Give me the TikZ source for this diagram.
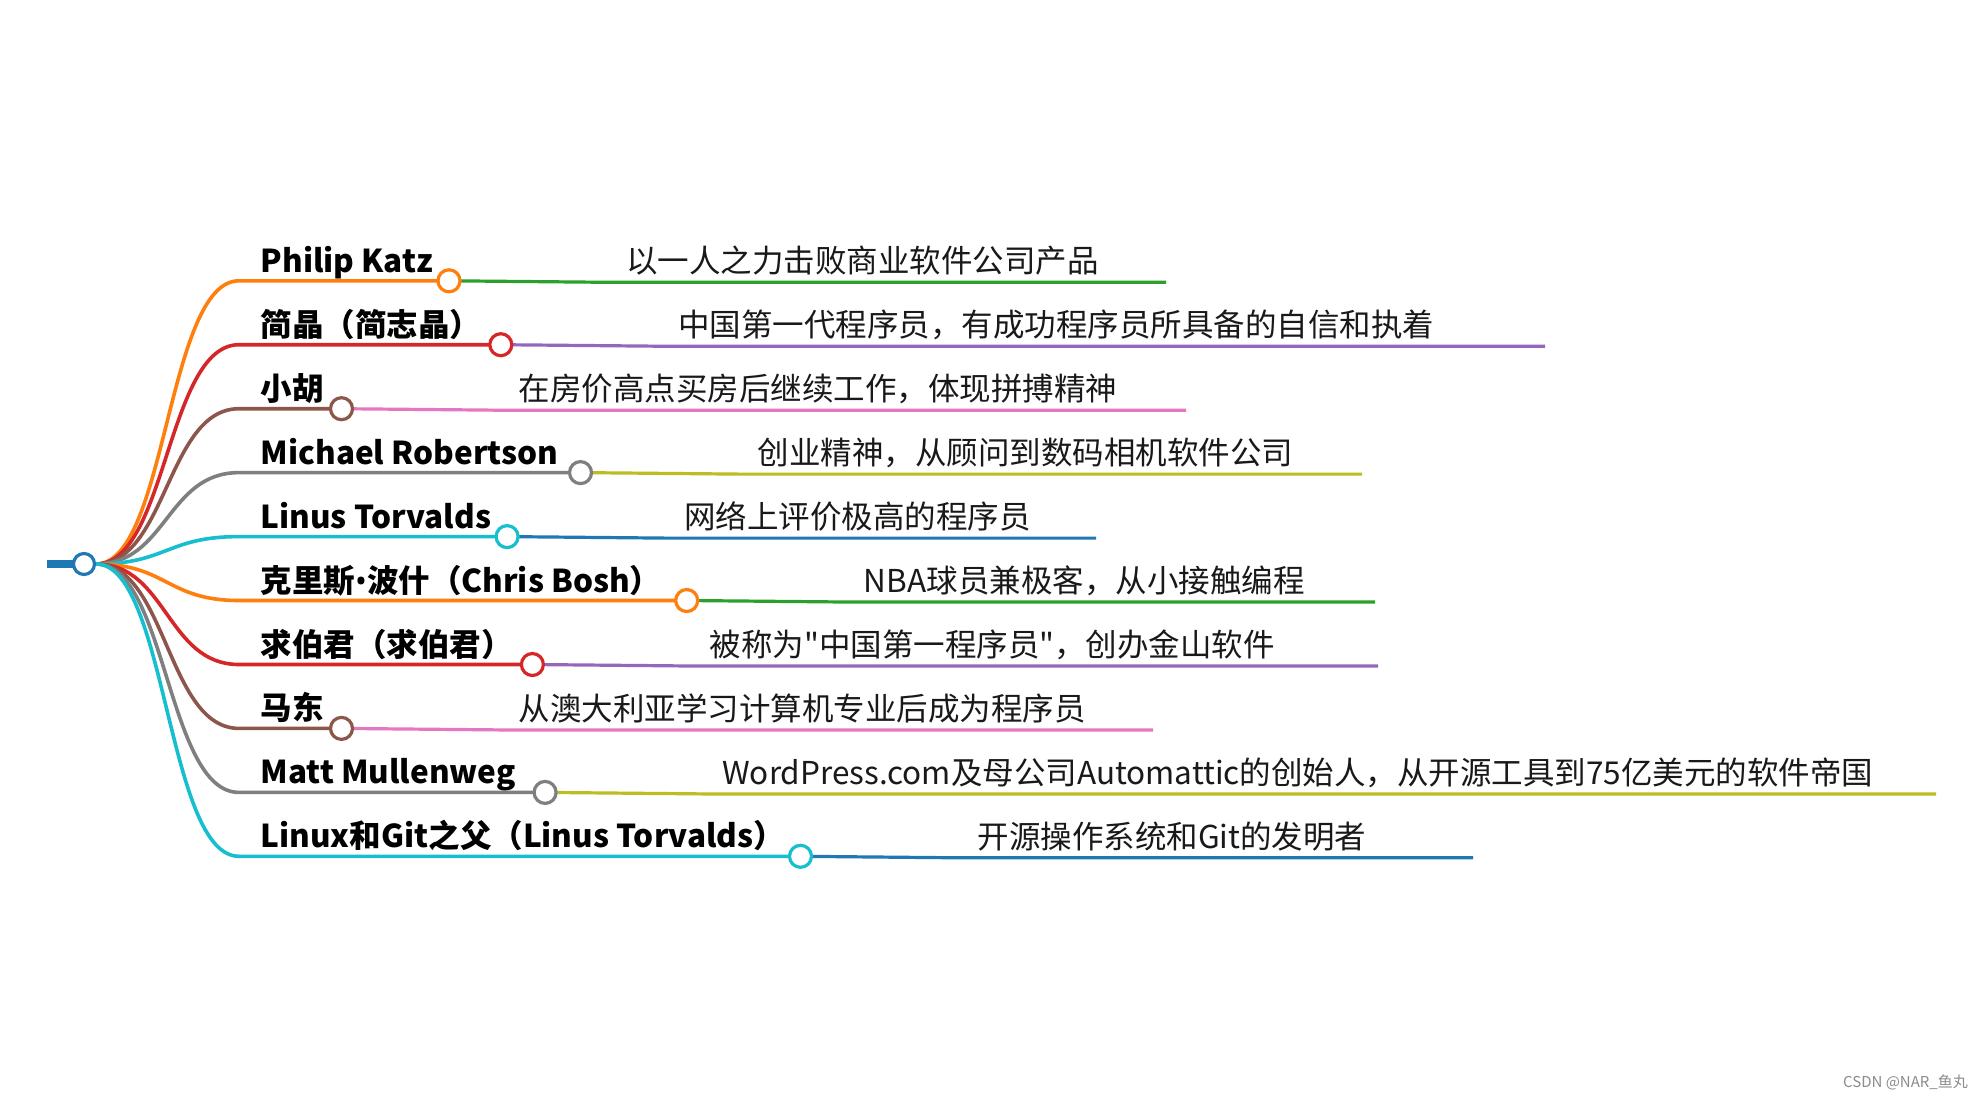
\documentclass[tikz,border=0pt]{standalone}
\usepackage{fontspec}
\newfontfamily\cjk{Noto Sans CJK SC}
\newfontfamily\latinfont{Noto Sans}
\definecolor{cBlue}{HTML}{1F77B4}
\definecolor{cOrange}{HTML}{FF7F0E}
\definecolor{cGreen}{HTML}{2CA02C}
\definecolor{cRed}{HTML}{D62728}
\definecolor{cPurple}{HTML}{9467BD}
\definecolor{cBrown}{HTML}{8C564B}
\definecolor{cPink}{HTML}{E377C2}
\definecolor{cGray}{HTML}{7F7F7F}
\definecolor{cOlive}{HTML}{BCBD22}
\definecolor{cCyan}{HTML}{17BECF}
\pgfdeclarelayer{bg}
\pgfdeclarelayer{paper}
\pgfsetlayers{paper,bg,main}
\tikzset{
  branch/.style={line width=3.6pt},
  leaf/.style={line width=3.2pt},
  dot/.style={circle, draw, fill=white, line width=3.2pt, minimum size=22pt, inner sep=0pt},
  lab/.style={anchor=base west, inner sep=0pt, font=\cjk\bfseries\fontsize{31.5}{38}\selectfont},
  desc/.style={anchor=base west, inner sep=0pt, font=\cjk\fontsize{31.5}{38}\selectfont, text=black!90},
}
\newcommand\mmbranch[8]{%
  \node[dot,draw=#5] (c#1) at (#3,#2) {};
  \node[lab] (l#1) at (260.5,{#2-8.5}) {#7};
  \node[desc] (d#1) at ({#3+177},{#2-8}) {#8};
  \coordinate (s#1) at (239,#2);
  \coordinate (k#1) at ({#3+158},{#2+1.5});
  \coordinate (t#1) at (#4,{#2+1.5});
  \begin{pgfonlayer}{bg}
  \draw[branch,#5] (root.east) .. controls (166.75,564) and (166.75,#2) .. (s#1) -- (c#1.center);
  \draw[leaf,#6] (c#1.center) .. controls ({#3+79},#2) and ({#3+79},{#2+1.5}) .. (k#1) -- (t#1);
  \end{pgfonlayer}
}
\begin{document}
\begin{tikzpicture}[x=1pt,y=-1pt]
\begin{pgfonlayer}{paper}
\fill[white] (0,0) rectangle (1983,1098);
\end{pgfonlayer}
\useasboundingbox (0,0) rectangle (1983,1098);
\node[dot,draw=cBlue,minimum size=21pt] (root) at (84,564) {};
\coordinate (stub) at (47,564);
\begin{pgfonlayer}{bg}
\draw[cBlue,line width=8pt] (stub) -- (root.center);
\end{pgfonlayer}
\mmbranch{1}{280.8}{449.0}{1166}{cOrange}{cGreen}{Philip Katz}{以一人之力击败商业软件公司产品}
\mmbranch{2}{344.7}{500.8}{1545}{cRed}{cPurple}{简晶（简志晶）}{中国第一代程序员，有成功程序员所具备的自信和执着}
\mmbranch{3}{408.7}{341.5}{1186}{cBrown}{cPink}{小胡}{在房价高点买房后继续工作，体现拼搏精神}
\mmbranch{4}{472.6}{580.5}{1362}{cGray}{cOlive}{Michael Robertson}{创业精神，从顾问到数码相机软件公司}
\mmbranch{5}{536.6}{507.1}{1096}{cCyan}{cBlue}{Linus Torvalds}{网络上评价极高的程序员}
\mmbranch{6}{600.5}{686.7}{1375}{cOrange}{cGreen}{克里斯{\latinfont\bfseries •}波什（Chris Bosh）}{NBA球员兼极客，从小接触编程}
\mmbranch{7}{664.5}{532.4}{1378}{cRed}{cPurple}{求伯君（求伯君）}{被称为"中国第一程序员"，创办金山软件}
\mmbranch{8}{728.4}{341.5}{1153}{cBrown}{cPink}{马东}{从澳大利亚学习计算机专业后成为程序员}
\mmbranch{9}{792.4}{545.1}{1936}{cGray}{cOlive}{Matt Mullenweg}{WordPress.com及母公司Automattic的创始人，从开源工具到75亿美元的软件帝国}
\mmbranch{10}{856.3}{800.5}{1473}{cCyan}{cBlue}{Linux和Git之父（Linus Torvalds）}{开源操作系统和Git的发明者}
\node[anchor=base east, inner sep=0pt, font=\cjk\fontsize{15}{18}\selectfont, text=black!45] (wm) at (1968,1087) {CSDN @NAR\_鱼丸};
\end{tikzpicture}
\end{document}
